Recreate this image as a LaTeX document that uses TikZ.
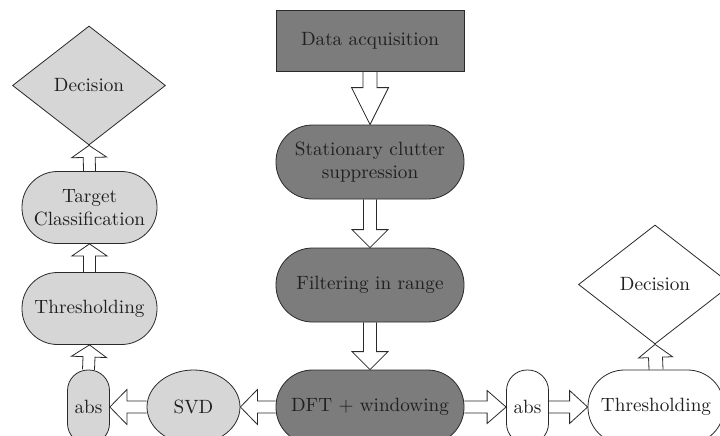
\documentclass[tikz,border=0pt]{standalone}
\usepackage{fontspec}
\setmainfont{lmroman10-regular}[Extension=.otf, BoldFont=lmroman10-bold]
\usetikzlibrary{calc,shapes.geometric}
\pgfdeclarelayer{background}
\pgfsetlayers{background,main}
\definecolor{darkfill}{HTML}{7C7C7C}
\definecolor{lightfill}{HTML}{D6D6D6}
\definecolor{edge}{HTML}{2A2A2A}
\tikzset{
  base/.style={draw=edge, line width=0.8pt, inner sep=0pt, align=center,
    font=\fontsize{19.2}{23}\selectfont, text=black!88},
  darkbox/.style={base, fill=darkfill, rectangle, minimum width=188pt, minimum height=61pt},
  darkpill/.style={base, fill=darkfill, rectangle, rounded corners=36.5pt, minimum width=188pt, minimum height=74pt},
  lightpill/.style={base, fill=lightfill, rectangle, rounded corners=35.5pt, minimum width=135pt, minimum height=72pt},
  whitepill/.style={base, fill=white, rectangle, rounded corners=36.5pt, minimum width=136pt, minimum height=74pt},
  smallpill/.style={base, rectangle, rounded corners=20.5pt, minimum width=42pt, minimum height=74pt},
  lightellipse/.style={base, fill=lightfill, ellipse, minimum width=93pt, minimum height=74pt},
  decision/.style={base, diamond, minimum width=153pt, minimum height=119pt},
  blockarrow/.style={draw=edge, line width=0.8pt, fill=white, line join=miter},
}
% #1 start, #2 end, #3 shaft half width, #4 head half width, #5 head length
\newcommand\blockarr[5]{%
  \coordinate (ba-s) at (#1);
  \coordinate (ba-e) at (#2);
  \coordinate (ba-h) at ($(ba-e)!#5!(ba-s)$);
  \filldraw[blockarrow] ($(ba-s)!#3!90:(ba-e)$) -- ($(ba-h)!#3!90:(ba-e)$) -- ($(ba-h)!#4!90:(ba-e)$) -- (ba-e)
     -- ($(ba-h)!#4!-90:(ba-e)$) -- ($(ba-h)!#3!-90:(ba-e)$) -- ($(ba-s)!#3!-90:(ba-e)$);
}
\begin{document}
\begin{tikzpicture}[x=1pt,y=-1pt]
\clip (0,0) rectangle (720,436);
\begin{pgfonlayer}{background}
\fill[white] (0,0) rectangle (720,436);
\end{pgfonlayer}
% central column
\node[darkbox]  (data)   at (370,40.5) {Data acquisition};
\node[darkpill] (clut)   at (370,162)  {Stationary clutter\\suppression};
\node[darkpill] (filt)   at (370,285)  {Filtering in range};
\node[darkpill] (dft)    at (370,407)  {DFT + windowing};
% left branch
\node[lightellipse] (svd) at (193.5,407) {SVD};
\node[smallpill, fill=lightfill] (absl) at (88.5,407) {abs};
\node[lightpill] (thrl) at (89.5,308.5) {Thresholding};
\node[lightpill] (targ) at (89.5,207.5) {Target\\Classification};
\node[decision, fill=lightfill] (decl) at (89,85.5) {Decision};
% right branch
\node[smallpill, fill=white] (absr) at (527.5,407) {abs};
\node[whitepill] (thrr) at (656,407) {Thresholding};
\node[decision, fill=none] (decr) at (655,284.5) {Decision};
% arrows
\begin{pgfonlayer}{background}
\blockarr{data.south}{clut.north}{7pt}{18.5pt}{37pt}
\blockarr{clut.south}{filt.north}{6.5pt}{18pt}{18pt}
\blockarr{filt.south}{dft.north}{6.5pt}{18pt}{18pt}
\blockarr{dft.west}{svd.east}{6pt}{17.5pt}{17pt}
\blockarr{svd.west}{absl.east}{6pt}{17.5pt}{17pt}
\blockarr{absl.north}{thrl.south}{6pt}{17.5pt}{12pt}
\blockarr{thrl.north}{targ.south}{6pt}{17.5pt}{12pt}
\blockarr{targ.north}{decl.south}{6pt}{17.5pt}{12pt}
\blockarr{dft.east}{absr.west}{6pt}{16.5pt}{19pt}
\blockarr{absr.east}{thrr.west}{6pt}{16.5pt}{18pt}
\blockarr{thrr.north}{decr.south}{7pt}{17pt}{13pt}
\end{pgfonlayer}
\end{tikzpicture}
\end{document}
